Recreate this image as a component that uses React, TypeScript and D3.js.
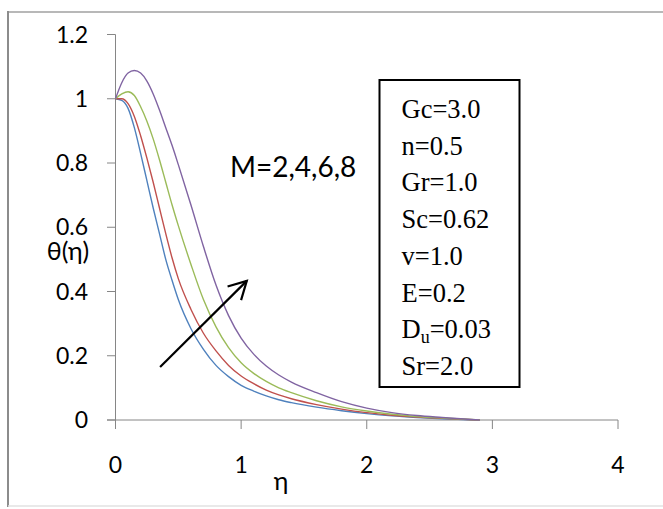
import React from "react";
import * as d3 from "d3";

const etaValues = [0, 0.05, 0.1, 0.15, 0.2, 0.25, 0.3, 0.35, 0.4, 0.45, 0.5, 0.6, 0.7, 0.8, 0.9, 1.0, 1.1, 1.2, 1.3, 1.4, 1.6, 1.8, 2.0, 2.2, 2.4, 2.6, 2.9];

const thetaM2 = [1.0, 0.995, 0.97, 0.91, 0.83, 0.745, 0.66, 0.58, 0.5, 0.435, 0.375, 0.285, 0.22, 0.17, 0.135, 0.108, 0.09, 0.075, 0.063, 0.054, 0.04, 0.029, 0.02, 0.013, 0.008, 0.004, 0.0];
const thetaM4 = [1.0, 1.0, 0.985, 0.945, 0.885, 0.815, 0.74, 0.66, 0.58, 0.505, 0.44, 0.345, 0.27, 0.215, 0.17, 0.137, 0.113, 0.093, 0.078, 0.066, 0.048, 0.034, 0.023, 0.015, 0.009, 0.005, 0.0];
const thetaM6 = [1.0, 1.015, 1.022, 1.01, 0.975, 0.93, 0.875, 0.81, 0.74, 0.67, 0.605, 0.485, 0.375, 0.29, 0.225, 0.178, 0.145, 0.12, 0.1, 0.085, 0.06, 0.041, 0.028, 0.018, 0.011, 0.006, 0.0];
const thetaM8 = [1.0, 1.05, 1.08, 1.088, 1.08, 1.055, 1.015, 0.965, 0.91, 0.855, 0.795, 0.67, 0.54, 0.42, 0.325, 0.255, 0.205, 0.168, 0.14, 0.118, 0.085, 0.057, 0.037, 0.023, 0.014, 0.008, 0.0];

const seriesNames = ["M=2", "M=4", "M=6", "M=8"];
const seriesColors = ["#4F81BD", "#C0504D", "#9BBB59", "#8064A2"];
const allSeries = [thetaM2, thetaM4, thetaM6, thetaM8];

const xTicks = [0, 1, 2, 3, 4];
const yTicks = [0, 0.2, 0.4, 0.6, 0.8, 1, 1.2];
const yTickLabels = ["0", "0.2", "0.4", "0.6", "0.8", "1", "1.2"];

const legendLines = ["Gc=3.0", "n=0.5", "Gr=1.0", "Sc=0.62", "v=1.0", "E=0.2", "Du=0.03", "Sr=2.0"];
const annotation = "M=2,4,6,8";

export default function App() {
  const x = d3.scaleLinear().domain([0, 4]).range([115.5, 618]);
  const y = d3.scaleLinear().domain([0, 1.2]).range([420, 34.5]);

  const line = d3
    .line<[number, number]>()
    .x((d) => x(d[0]))
    .y((d) => y(d[1]))
    .curve(d3.curveMonotoneX);

  const tickFont = "Lato, 'Open Sans', sans-serif";
  const serif = "'Liberation Serif', 'Times New Roman', serif";

  const arrowStart: [number, number] = [0.355, 0.165];
  const arrowEnd: [number, number] = [1.045, 0.433];
  const ax1 = x(arrowStart[0]);
  const ay1 = y(arrowStart[1]);
  const ax2 = x(arrowEnd[0]);
  const ay2 = y(arrowEnd[1]);
  const ang = Math.atan2(ay2 - ay1, ax2 - ax1);
  const headLen = 20;
  const headAng = 0.5;
  const h1 = [ax2 - headLen * Math.cos(ang - headAng), ay2 - headLen * Math.sin(ang - headAng)];
  const h2 = [ax2 - headLen * Math.cos(ang + headAng), ay2 - headLen * Math.sin(ang + headAng)];

  const boxX = 379.5;
  const boxY = 80;
  const boxW = 140;
  const boxH = 307;

  return (
    <svg
      width={663}
      height={509}
      style={{ position: "absolute", left: 0, top: 0, background: "#fff" }}
    >
      <rect x={0} y={0} width={663} height={509} fill="#fff" />
      <line x1={8} y1={12} x2={663} y2={12} stroke="#b8b8b8" strokeWidth={2} />
      <line x1={8} y1={11} x2={8} y2={507} stroke="#8c8c8c" strokeWidth={2} />
      <line x1={8} y1={506} x2={663} y2={506} stroke="#e2e2e2" strokeWidth={1.5} />

      <line x1={x(0)} y1={y(1.2)} x2={x(0)} y2={y(0)} stroke="#868686" strokeWidth={1} />
      <line x1={107} y1={y(0)} x2={x(4)} y2={y(0)} stroke="#868686" strokeWidth={1} />
      {yTicks.map((t, i) => (
        <g key={"yt" + i}>
          <line x1={107} x2={x(0)} y1={y(t)} y2={y(t)} stroke="#868686" strokeWidth={1} />
          <text x={88} y={y(t) + 8} textAnchor="end" fontFamily={tickFont} fontSize={23} fill="#000">
            {yTickLabels[i]}
          </text>
        </g>
      ))}
      {xTicks.map((t) => (
        <g key={"xt" + t}>
          <line x1={x(t)} x2={x(t)} y1={y(0)} y2={429} stroke="#868686" strokeWidth={1} />
          <text x={x(t)} y={473} textAnchor="middle" fontFamily={tickFont} fontSize={23} fill="#000">
            {t}
          </text>
        </g>
      ))}

      <text x={281} y={490} textAnchor="middle" fontFamily={tickFont} fontSize={25} fill="#000">
        η
      </text>
      <text x={68} y={260} textAnchor="middle" fontFamily={tickFont} fontSize={25} fill="#000">
        θ(η)
      </text>

      {allSeries.map((s, i) => (
        <path
          key={seriesNames[i]}
          d={line(etaValues.map((e, j) => [e, s[j]] as [number, number])) || ""}
          fill="none"
          stroke={seriesColors[i]}
          strokeWidth={1.4}
        />
      ))}

      <text x={230} y={177} fontFamily={tickFont} fontSize={28} fill="#000">
        {annotation}
      </text>
      <line x1={ax1} y1={ay1} x2={ax2} y2={ay2} stroke="#000" strokeWidth={2.2} />
      <polyline
        points={`${h1[0]},${h1[1]} ${ax2},${ay2} ${h2[0]},${h2[1]}`}
        fill="none"
        stroke="#000"
        strokeWidth={2.2}
      />

      <rect x={boxX} y={boxY} width={boxW} height={boxH} fill="#fff" stroke="#000" strokeWidth={2} />
      {legendLines.map((l, i) => {
        const yy = 118 + i * 36.7;
        if (l.startsWith("Du")) {
          return (
            <text key={l} x={401.5} y={yy} fontFamily={serif} fontSize={26.5} fill="#000">
              D
              <tspan fontSize={18} dy={5}>u</tspan>
              <tspan dy={-5}>{l.slice(2)}</tspan>
            </text>
          );
        }
        return (
          <text key={l} x={401.5} y={yy} fontFamily={serif} fontSize={26.5} fill="#000">
            {l}
          </text>
        );
      })}
    </svg>
  );
}
